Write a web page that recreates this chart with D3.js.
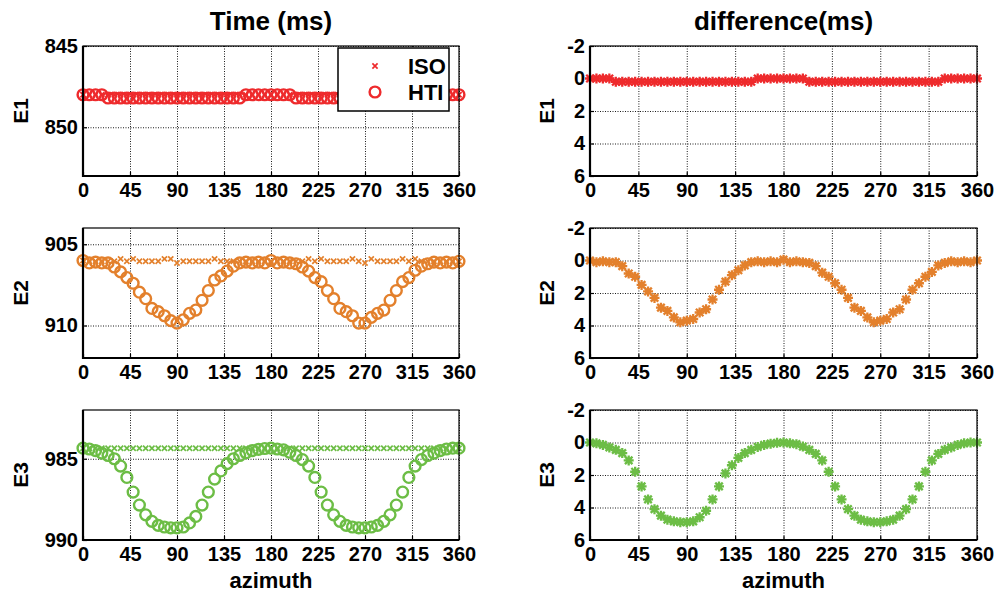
<!DOCTYPE html>
<html>
<head>
<meta charset="utf-8">
<script src="https://cdn.jsdelivr.net/npm/d3@7"></script>
<style>
  body { margin: 0; background: #fff; }
  svg { display: block; font-family: "Liberation Sans", Arial, sans-serif; font-weight: bold; }
</style>
</head>
<body>
<div id="chart"></div>
<script>
// azimuth samples (deg)
const azimuth = [0, 6, 12, 18, 24, 30, 36, 42, 48, 54, 60, 66, 72, 78, 84, 90, 96, 102, 108, 114, 120,
  126, 132, 138, 144, 150, 156, 162, 168, 174, 180, 186, 192, 198, 204, 210, 216, 222, 228, 234, 240,
  246, 252, 258, 264, 270, 276, 282, 288, 294, 300, 306, 312, 318, 324, 330, 336, 342, 348, 354, 360]

// E1
const isoE1 = [848, 848, 848, 848, 848, 848, 848, 848, 848, 848, 848, 848, 848, 848, 848, 848, 848, 848, 848, 848, 848,
  848, 848, 848, 848, 848, 848, 848, 848, 848, 848, 848, 848, 848, 848, 848, 848, 848, 848, 848, 848,
  848, 848, 848, 848, 848, 848, 848, 848, 848, 848, 848, 848, 848, 848, 848, 848, 848, 848, 848, 848]
const htiE1 = [848, 848, 848, 848, 848.2, 848.2, 848.2, 848.2, 848.2, 848.2, 848.2, 848.2, 848.2, 848.2, 848.2, 848.2, 848.2, 848.2, 848.2, 848.2, 848.2,
  848.2, 848.2, 848.2, 848.2, 848.2, 848, 848, 848, 848, 848, 848, 848, 848, 848.2, 848.2, 848.2, 848.2, 848.2, 848.2, 848.2,
  848.2, 848.2, 848.2, 848.2, 848.2, 848.2, 848.2, 848.2, 848.2, 848.2, 848.2, 848.2, 848.2, 848.2, 848, 848, 848, 848, 848, 848]
const diffE1 = [0, 0, 0, 0, 0.2, 0.2, 0.2, 0.2, 0.2, 0.2, 0.2, 0.2, 0.2, 0.2, 0.2, 0.2, 0.2, 0.2, 0.2, 0.2, 0.2,
  0.2, 0.2, 0.2, 0.2, 0.2, 0, 0, 0, 0, 0, 0, 0, 0, 0.2, 0.2, 0.2, 0.2, 0.2, 0.2, 0.2,
  0.2, 0.2, 0.2, 0.2, 0.2, 0.2, 0.2, 0.2, 0.2, 0.2, 0.2, 0.2, 0.2, 0.2, 0, 0, 0, 0, 0, 0]

// E2
const isoE2 = [906, 906.05, 906.05, 906.05, 906.05, 906.05, 905.9, 906.05, 905.9, 906.05, 906.05, 906.05, 906.05, 905.9, 905.9, 906.15, 906.05, 906.05, 906.05, 906.05, 906.05,
  905.9, 906.05, 906.05, 906.05, 906.05, 906.05, 906.05, 906.05, 906.05, 906.05, 906.05, 906.05, 906.05, 906.05, 906.05, 905.9, 906.05, 905.9, 906.05, 906.05,
  906.05, 906.05, 905.9, 906.05, 906.15, 905.9, 906.05, 906.05, 906.05, 906.05, 905.9, 906.05, 905.9, 906.05, 906.05, 906.05, 906.05, 906.05, 906.05, 906.05]
const htiE2 = [906, 906.15, 906.1, 906.15, 906.15, 906.4, 906.7, 907.05, 907.4, 907.95, 908.35, 908.95, 909.15, 909.4, 909.7, 909.85, 909.65, 909.25, 909.05, 908.45, 907.85,
  907.2, 906.95, 906.65, 906.35, 906.15, 906.1, 906.15, 906.1, 906.15, 906, 906.15, 906.1, 906.15, 906.2, 906.4, 906.65, 907.05, 907.3, 907.85, 908.35,
  908.95, 909.15, 909.4, 909.85, 909.85, 909.5, 909.25, 909.05, 908.45, 907.85, 907.3, 907.05, 906.6, 906.35, 906.2, 906.1, 906.15, 906.1, 906.15, 906.05]
const diffE2 = [0, 0.1, 0.05, 0.1, 0.1, 0.35, 0.8, 1.0, 1.5, 1.9, 2.3, 2.9, 3.1, 3.5, 3.8, 3.7, 3.6, 3.2, 3.0, 2.4, 1.8,
  1.3, 0.9, 0.6, 0.3, 0.1, 0.05, 0.1, 0.05, 0.1, -0.05, 0.1, 0.05, 0.1, 0.15, 0.35, 0.75, 1.0, 1.4, 1.8, 2.3,
  2.9, 3.1, 3.5, 3.8, 3.7, 3.6, 3.2, 3.0, 2.4, 1.8, 1.4, 1.0, 0.7, 0.3, 0.15, 0.05, 0.1, 0.05, 0.1, 0]

// E3
const isoE3 = [984.35, 984.35, 984.35, 984.35, 984.35, 984.35, 984.35, 984.35, 984.35, 984.35, 984.35, 984.35, 984.35, 984.35, 984.35, 984.35, 984.35, 984.35, 984.35, 984.35, 984.35,
  984.35, 984.35, 984.35, 984.35, 984.35, 984.35, 984.35, 984.35, 984.35, 984.35, 984.35, 984.35, 984.35, 984.35, 984.35, 984.35, 984.35, 984.35, 984.35, 984.35,
  984.35, 984.35, 984.35, 984.35, 984.35, 984.35, 984.35, 984.35, 984.35, 984.35, 984.35, 984.35, 984.35, 984.35, 984.35, 984.35, 984.35, 984.35, 984.35, 984.35]
const htiE3 = [984.35, 984.4, 984.5, 984.65, 984.8, 985.0, 985.45, 986.15, 987.05, 987.85, 988.45, 988.85, 989.1, 989.2, 989.25, 989.25, 989.2, 988.95, 988.55, 987.85, 987.05,
  986.25, 985.75, 985.3, 985.0, 984.8, 984.63, 984.5, 984.42, 984.37, 984.35, 984.4, 984.45, 984.6, 984.8, 985.05, 985.45, 986.15, 987.05, 987.85, 988.45,
  988.85, 989.1, 989.2, 989.25, 989.25, 989.2, 989.1, 988.85, 988.45, 987.85, 987.05, 986.15, 985.45, 985.05, 984.8, 984.65, 984.5, 984.4, 984.35, 984.35]
const diffE3 = [0, 0.05, 0.15, 0.3, 0.45, 0.65, 1.1, 1.8, 2.7, 3.5, 4.1, 4.5, 4.75, 4.85, 4.9, 4.9, 4.85, 4.6, 4.2, 3.5, 2.7,
  1.9, 1.4, 0.95, 0.65, 0.45, 0.28, 0.15, 0.07, 0.02, 0, 0.05, 0.1, 0.25, 0.45, 0.7, 1.1, 1.8, 2.7, 3.5, 4.1,
  4.5, 4.75, 4.85, 4.9, 4.9, 4.85, 4.75, 4.5, 4.1, 3.5, 2.7, 1.8, 1.1, 0.7, 0.45, 0.3, 0.15, 0.05, 0, 0]

const rowNames = ["E1", "E2", "E3"]
const timeDomains = [[845, 853], [904, 912], [982, 990]]
const timeTicks = [[845, 850], [905, 910], [985, 990]]
const diffDomain = [-2, 6]
const diffTicks = [-2, 0, 2, 4, 6]
const azTicks = [0, 45, 90, 135, 180, 225, 270, 315, 360]
const colors = ["#ee2a2c", "#e3802c", "#6cbd45"]

const isoRows = [isoE1, isoE2, isoE3]
const htiRows = [htiE1, htiE2, htiE3]
const diffRows = [diffE1, diffE2, diffE3]

// layout
const W = 996, H = 597
const cols = [{ x0: 83, x1: 459 }, { x0: 590, x1: 977 }]
const rowTops = [46, 228, 410]
const ph = 130

const svg = d3.select("#chart").append("svg")
  .attr("width", W).attr("height", H)

const starPath = (s) => {
  const a = s * 0.75
  return `M${-s},0L${s},0M0,${-s}L0,${s}M${-a},${-a}L${a},${a}M${-a},${a}L${a},${-a}`
}
const crossPath = (s) => `M${-s},${-s}L${s},${s}M${-s},${s}L${s},${-s}`

const drawPanel = (col, top, yDomain, yTicks) => {
  const x = d3.scaleLinear().domain([0, 360]).range([col.x0, col.x1])
  const y = d3.scaleLinear().domain(yDomain).range([top, top + ph])
  const g = svg.append("g")

  // grid
  g.append("g")
    .attr("transform", "translate(0," + top + ")")
    .call(d3.axisBottom(x).tickValues(azTicks).tickSize(ph).tickFormat(""))
    .call(a => a.select(".domain").remove())
    .selectAll("line").attr("stroke", "#000").attr("stroke-dasharray", "1,1.5").attr("stroke-width", 0.9)
  g.append("g")
    .attr("transform", "translate(" + col.x0 + ",0)")
    .call(d3.axisRight(y).tickValues(yTicks).tickSize(col.x1 - col.x0).tickFormat(""))
    .call(a => a.select(".domain").remove())
    .selectAll("line").attr("stroke", "#000").attr("stroke-dasharray", "1,1.5").attr("stroke-width", 0.9)

  // tick labels
  const xa = g.append("g")
    .attr("transform", "translate(0," + (top + ph) + ")")
    .call(d3.axisBottom(x).tickValues(azTicks).tickSize(-4).tickPadding(7).tickFormat(String))
  xa.select(".domain").remove()
  xa.selectAll("text").attr("font-size", 20).attr("font-family", null).attr("fill", "#000")
  xa.selectAll("line").attr("stroke-width", 1.2)

  const ya = g.append("g")
    .attr("transform", "translate(" + col.x0 + ",0)")
    .call(d3.axisLeft(y).tickValues(yTicks).tickSize(-4).tickPadding(5).tickFormat(String))
  ya.select(".domain").remove()
  ya.selectAll("text").attr("font-size", 20).attr("font-family", null).attr("fill", "#000")
  ya.selectAll("line").attr("stroke-width", 1.2)

  return { x, y, g }
}

const frame = (col, top) => {
  const f = svg.append("g")
  f.append("rect")
    .attr("x", col.x0).attr("y", top)
    .attr("width", col.x1 - col.x0).attr("height", ph)
    .attr("fill", "none").attr("stroke", "#000").attr("stroke-width", 1.2)
  f.append("path")
    .attr("d", `M${col.x0},${top}V${top + ph}H${col.x1}`)
    .attr("fill", "none").attr("stroke", "#000").attr("stroke-width", 2.2)
}

rowNames.forEach((name, r) => {
  const top = rowTops[r]
  const color = colors[r]

  // left: time
  const L = drawPanel(cols[0], top, timeDomains[r], timeTicks[r])
  L.g.append("g").selectAll("path")
    .data(azimuth)
    .enter().append("path")
    .attr("d", crossPath(2.6))
    .attr("transform", (d, i) => "translate(" + L.x(d) + "," + L.y(isoRows[r][i]) + ")")
    .attr("stroke", color).attr("stroke-width", 1.7).attr("fill", "none")
  L.g.append("g").selectAll("circle")
    .data(azimuth)
    .enter().append("circle")
    .attr("cx", d => L.x(d))
    .attr("cy", (d, i) => L.y(htiRows[r][i]))
    .attr("r", 5.4)
    .attr("fill", "none").attr("stroke", color).attr("stroke-width", 2.4)
  frame(cols[0], top)

  // right: difference
  const R = drawPanel(cols[1], top, diffDomain, diffTicks)
  R.g.append("g").selectAll("path")
    .data(azimuth)
    .enter().append("path")
    .attr("d", starPath(5))
    .attr("transform", (d, i) => "translate(" + R.x(d) + "," + R.y(diffRows[r][i]) + ")")
    .attr("stroke", color).attr("stroke-width", 2.3).attr("fill", "none")
  frame(cols[1], top)

  // row labels
  svg.append("text")
    .attr("transform", "translate(28," + (top + ph / 2) + ") rotate(-90)")
    .attr("text-anchor", "middle").attr("font-size", 21).text(name)
  svg.append("text")
    .attr("transform", "translate(554," + (top + ph / 2) + ") rotate(-90)")
    .attr("text-anchor", "middle").attr("font-size", 21).text(name)
})

// titles
svg.append("text").attr("x", (cols[0].x0 + cols[0].x1) / 2).attr("y", 30)
  .attr("text-anchor", "middle").attr("font-size", 26).text("Time (ms)")
svg.append("text").attr("x", (cols[1].x0 + cols[1].x1) / 2).attr("y", 30)
  .attr("text-anchor", "middle").attr("font-size", 26).text("difference(ms)")
svg.append("text").attr("x", (cols[0].x0 + cols[0].x1) / 2).attr("y", 588)
  .attr("text-anchor", "middle").attr("font-size", 22).text("azimuth")
svg.append("text").attr("x", (cols[1].x0 + cols[1].x1) / 2).attr("y", 588)
  .attr("text-anchor", "middle").attr("font-size", 22).text("azimuth")

// legend
const leg = svg.append("g").attr("transform", "translate(338,48)")
leg.append("rect").attr("width", 111).attr("height", 63)
  .attr("fill", "#fff").attr("stroke", "#000").attr("stroke-width", 1.5)
leg.append("path").attr("d", crossPath(2.6)).attr("transform", "translate(37,18)")
  .attr("stroke", colors[0]).attr("stroke-width", 1.7)
leg.append("circle").attr("cx", 37).attr("cy", 44).attr("r", 5.4)
  .attr("fill", "none").attr("stroke", colors[0]).attr("stroke-width", 2.4)
leg.append("text").attr("x", 70).attr("y", 26).attr("font-size", 22).text("ISO")
leg.append("text").attr("x", 70).attr("y", 52).attr("font-size", 22).text("HTI")
</script>
</body>
</html>
